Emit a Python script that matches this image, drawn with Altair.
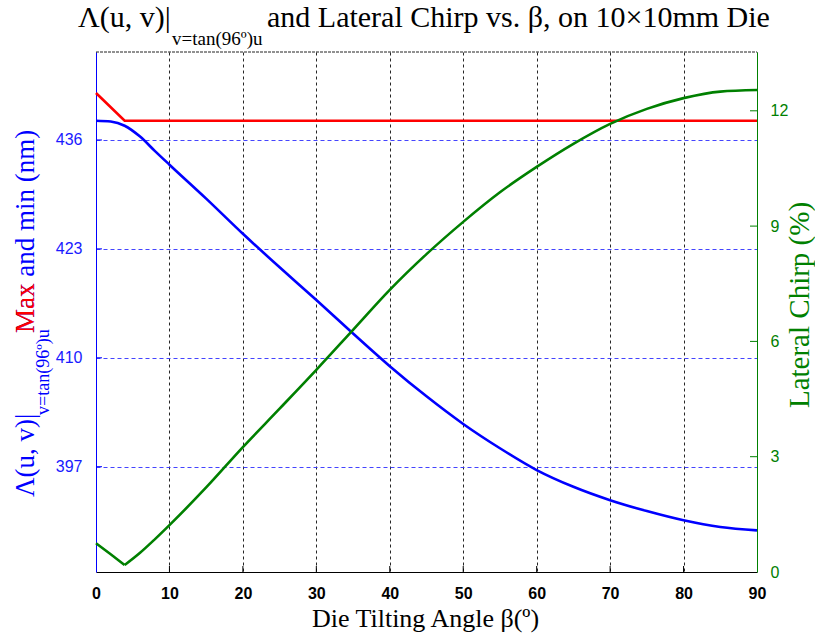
import altair as alt
import pandas as pd

# ---- data ----
beta = [0, 2, 3.9, 6, 8, 10, 15, 20, 25, 30, 35, 40, 45, 50, 55, 60, 65, 70, 75, 80, 85, 90]
lam_min = [438.3, 438.2, 437.7, 436.4, 434.7, 433.05, 429.0, 424.8, 420.8, 416.9, 412.9,
           409.0, 405.4, 402.1, 399.2, 396.6, 394.6, 393.0, 391.7, 390.6, 389.8, 389.4]
chirp = [0.75, 0.46, 0.18, 0.5, 0.85, 1.22, 2.2, 3.25, 4.25, 5.26, 6.3, 7.34, 8.27,
         9.11, 9.88, 10.54, 11.14, 11.66, 12.05, 12.33, 12.5, 12.54]
beta_max = [0, 3.9, 90]
lam_max = [441.6, 438.3, 438.3]

x_ticks = [0, 10, 20, 30, 40, 50, 60, 70, 80, 90]
left_ticks = [397, 410, 423, 436]
right_ticks = [0, 3, 6, 9, 12]

W, H = 661, 520
BLUE = "#0000ff"
RED = "#ff0000"
GREEN = "#008000"
LBL_BLUE = "#1a1aff"
SERIF = "Liberation Serif"
SANS = "Liberation Sans"

df_min = pd.DataFrame({"beta": beta, "lam": lam_min})
# chirp split at its minimum (sharp kink) into two smooth branches
kink = beta.index(3.9)
df_chirp = pd.concat([
    pd.DataFrame({"beta": beta[:kink + 1], "chirp": chirp[:kink + 1], "seg": "a"}),
    pd.DataFrame({"beta": beta[kink:], "chirp": chirp[kink:], "seg": "b"}),
])
df_max = pd.DataFrame({"beta": beta_max, "lam": lam_max})
one = pd.DataFrame({"a": [0]})

xscale = alt.Scale(domain=[0, 90], nice=False, zero=False)
lscale = alt.Scale(domain=[384.43, 446.5], nice=False, zero=False)
rscale = alt.Scale(domain=[0, 13.53], nice=False, zero=False)

x_axis = alt.Axis(values=x_ticks, grid=True, gridColor="#000000", gridDash=[3, 3],
                  gridOpacity=0.85, gridWidth=1, ticks=False, tickSize=0,
                  domainColor="#000000", domainWidth=1, labelFont=SANS,
                  labelFontWeight="bold", labelFontSize=16, labelColor="#000000",
                  labelPadding=13, title=None, labelFlush=False, orient="bottom")
l_axis = alt.Axis(values=left_ticks, grid=True, gridColor="#3030ff", gridDash=[4, 3],
                  gridOpacity=0.9, gridWidth=1, ticks=False, tickSize=0,
                  domainColor=BLUE, domainWidth=1, labelFont=SANS, labelFontSize=16,
                  labelColor=LBL_BLUE, labelPadding=14, title=None, orient="left")
r_axis = alt.Axis(values=right_ticks, grid=False, ticks=False, tickSize=0,
                  domainColor=GREEN, domainWidth=1, labelFont=SANS, labelFontSize=16,
                  labelColor=GREEN, labelPadding=13, title=None, orient="right")

X = lambda f: alt.X(f, scale=xscale, axis=x_axis)
YL = lambda f: alt.Y(f, scale=lscale, axis=l_axis)
YR = lambda f: alt.Y(f, scale=rscale, axis=r_axis)

blue_line = alt.Chart(df_min).mark_line(color=BLUE, strokeWidth=2.6, interpolate="monotone").encode(
    x=X("beta:Q"), y=YL("lam:Q"),
)
red_line = alt.Chart(df_max).mark_line(color=RED, strokeWidth=2.6).encode(
    x=X("beta:Q"), y=YL("lam:Q"),
)
left_ticks_rule = alt.Chart(pd.DataFrame({"v": left_ticks})).mark_rule(color=BLUE, strokeWidth=1).encode(
    x=alt.value(0), x2=alt.value(6), y=YL("v:Q"),
)
left = alt.layer(blue_line, left_ticks_rule, red_line)

green_line = alt.Chart(df_chirp).mark_line(color=GREEN, strokeWidth=2.6, interpolate="monotone").encode(
    x=X("beta:Q"), y=YR("chirp:Q"), detail="seg:N",
)
right_ticks_rule = alt.Chart(pd.DataFrame({"v": right_ticks[1:]})).mark_rule(color=GREEN, strokeWidth=1).encode(
    x=alt.value(W - 7), x2=alt.value(W), y=YR("v:Q"),
)
right = alt.layer(right_ticks_rule, green_line)

x_ticks_rule = alt.Chart(pd.DataFrame({"b": x_ticks[1:-1]})).mark_rule(color="#000000", strokeWidth=1).encode(
    x=X("b:Q"), y=alt.value(H), y2=alt.value(H - 6),
)
top_border = alt.Chart(one).mark_rule(color="#222222", strokeWidth=1, strokeDash=[3, 1]).encode(
    x=alt.value(0), x2=alt.value(W), y=alt.value(0)
)


def txt(text, x, y, size, color="#000000", angle=0, align="left", font=SERIF):
    return alt.Chart(one).mark_text(
        text=text, font=font, fontSize=size, color=color, angle=angle,
        align=align, baseline="alphabetic",
    ).encode(x=alt.value(x), y=alt.value(y))


texts = [
    # title
    txt("Λ(u, v)|", -18, -25, 30),
    txt("v=tan(96º)u", 76, -7, 19),
    txt("and Lateral Chirp vs. β, on 10×10mm Die", 171, -25, 30),
    # x title
    txt("Die Tilting Angle β(º)", 329.5, 575, 26, align="center"),
    # right title
    txt("Lateral Chirp (%)", 713, 253, 29, color=GREEN, angle=270, align="center"),
    # left title
    txt("Λ(u, v)|", -62, 445, 27, color=BLUE, angle=270),
    txt("v=tan(96º)u", -47, 363, 18, color=BLUE, angle=270),
    txt("Max and min (nm)", -62, 281, 27, color=BLUE, angle=270),
    txt("Max", -62, 281, 27, color=RED, angle=270),
]

chart = alt.layer(left, right, x_ticks_rule, top_border, *texts).resolve_scale(
    y="independent"
).properties(
    width=W, height=H,
    padding={"left": 96, "top": 52, "right": 58, "bottom": 63},
    autosize=alt.AutoSizeParams(type="none"),
).configure_view(stroke=None)

chart.save("out.html", embed_options={"renderer": "svg", "actions": False})
